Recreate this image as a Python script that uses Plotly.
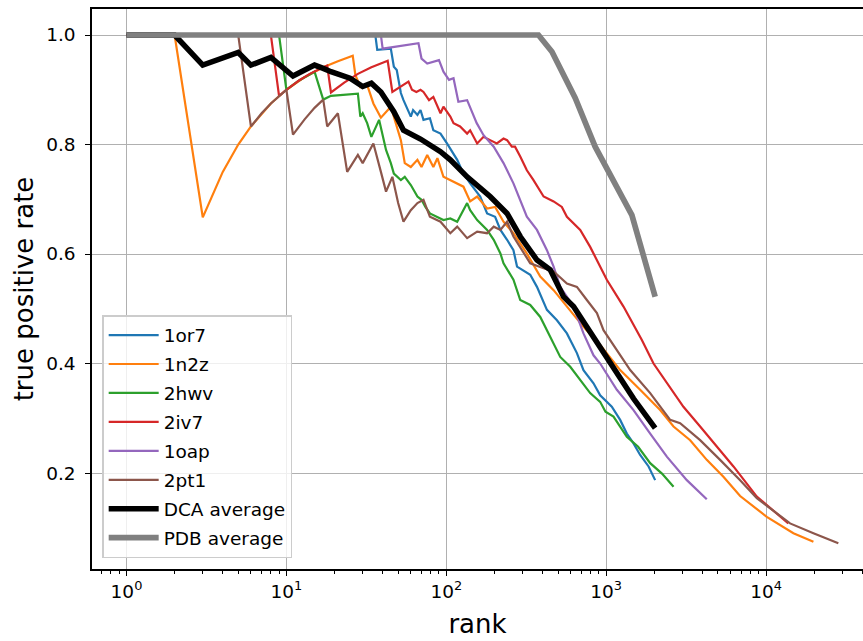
import plotly.graph_objects as go

series_names = ["1or7", "1n2z", "2hwv", "2iv7", "1oap", "2pt1", "DCA average", "PDB average"]

rank_1or7 = [1, 36, 37, 45, 47, 49, 52, 54, 60, 62, 66, 69, 72, 79, 83, 92, 101, 117, 128, 141,
             163, 180, 202, 218, 240, 263, 277, 335, 369, 426, 492, 568, 656, 721, 833, 917, 1084, 1223, 1346, 1482,
             1631, 1841, 2024]
tpr_1or7 = [1.0, 1.0, 0.973, 0.975, 0.942, 0.936, 0.894, 0.881, 0.851, 0.863, 0.854, 0.863, 0.845, 0.848, 0.826, 0.820, 0.802, 0.772, 0.747, 0.729,
            0.705, 0.674, 0.668, 0.644, 0.626, 0.607, 0.577, 0.562, 0.540, 0.498, 0.479, 0.455, 0.419, 0.388, 0.364, 0.342, 0.321, 0.297, 0.272, 0.254,
            0.233, 0.212, 0.187]

rank_1n2z = [1, 2, 3, 4, 5, 6, 8, 10, 13, 17, 21, 26, 27, 29, 32, 35, 39, 45, 52, 55,
             60, 66, 70, 76, 83, 88, 96, 111, 128, 141, 156, 180, 202, 228, 263, 319, 387, 469, 568, 721,
             917, 1223, 1631, 2175, 2637, 3350, 4256, 5408, 6880, 10100, 14820, 19770]
tpr_1n2z = [1.0, 1.0, 0.667, 0.75, 0.80, 0.833, 0.875, 0.90, 0.923, 0.941, 0.952, 0.962, 0.927, 0.905, 0.909, 0.875, 0.849, 0.869, 0.808, 0.766,
            0.759, 0.772, 0.759, 0.781, 0.759, 0.775, 0.741, 0.732, 0.723, 0.696, 0.705, 0.683, 0.686, 0.659, 0.638, 0.601, 0.559, 0.534, 0.504, 0.467,
            0.434, 0.388, 0.352, 0.315, 0.285, 0.260, 0.224, 0.193, 0.158, 0.120, 0.090, 0.0745]

rank_2hwv = [1, 9, 10, 12, 15, 17, 19, 23, 28, 29, 30, 32, 34, 38, 42, 45, 47, 52, 55, 60,
             66, 70, 74, 79, 88, 96, 106, 117, 135, 141, 156, 180, 198, 218, 228, 263, 290, 335, 387, 447,
             516, 596, 688, 794, 917, 990, 1111, 1346, 1584, 1884, 2233, 2637]
tpr_2hwv = [1.0, 1.0, 0.90, 0.917, 0.933, 0.882, 0.889, 0.891, 0.893, 0.851, 0.857, 0.839, 0.814, 0.845, 0.790, 0.766, 0.747, 0.735, 0.741, 0.726,
            0.705, 0.699, 0.686, 0.674, 0.668, 0.662, 0.665, 0.659, 0.693, 0.680, 0.662, 0.644, 0.626, 0.601, 0.583, 0.553, 0.516, 0.507, 0.485, 0.449,
            0.412, 0.394, 0.370, 0.346, 0.330, 0.312, 0.303, 0.266, 0.248, 0.218, 0.199, 0.175]

rank_2iv7 = [1, 8, 9, 10, 12, 14, 16, 18, 19, 23, 28, 34, 43, 46, 58, 61, 65, 69, 72, 78,
             83, 88, 92, 96, 106, 111, 122, 135, 141, 156, 171, 188, 207, 228, 240, 257, 269, 290, 319, 351,
             406, 469, 528, 568, 688, 794, 917, 1009, 1283, 1555, 1671, 1977, 2395, 3041, 3868, 4920, 6250, 8750, 13770]
tpr_2iv7 = [1.0, 1.0, 0.889, 0.90, 0.917, 0.929, 0.9375, 0.944, 0.895, 0.913, 0.929, 0.941, 0.953, 0.896, 0.915, 0.900, 0.896, 0.900, 0.896, 0.881,
            0.887, 0.869, 0.857, 0.869, 0.851, 0.839, 0.833, 0.820, 0.826, 0.802, 0.814, 0.808, 0.802, 0.811, 0.808, 0.796, 0.796, 0.778, 0.753, 0.735,
            0.705, 0.696, 0.686, 0.668, 0.644, 0.613, 0.577, 0.553, 0.504, 0.461, 0.443, 0.400, 0.364, 0.321, 0.285, 0.248, 0.212, 0.157, 0.108]

rank_1oap = [1, 39, 40, 67, 70, 76, 90, 96, 104, 111, 119, 135, 155, 171, 198, 228, 263, 290, 319, 369,
             426, 469, 516, 625, 721, 833, 917, 1166, 1482, 1884, 2395, 3193, 4256]
tpr_1oap = [1.0, 1.0, 0.975, 0.985, 0.957, 0.948, 0.954, 0.933, 0.918, 0.921, 0.878, 0.881, 0.839, 0.817, 0.796, 0.766, 0.729, 0.699, 0.668, 0.644,
            0.607, 0.577, 0.540, 0.504, 0.455, 0.415, 0.400, 0.352, 0.315, 0.272, 0.230, 0.187, 0.152]

rank_2pt1 = [1, 5, 6, 7, 8, 10, 11, 13, 15, 17, 18, 21, 24, 28, 30, 35, 39, 42, 46, 50,
             54, 60, 66, 72, 79, 92, 106, 117, 135, 156, 180, 198, 218, 240, 263, 290, 335, 406, 469, 568,
             656, 757, 875, 962, 1059, 1413, 1884, 2512, 2900, 3868, 5158, 6880, 8750, 14120, 19770, 28300]
tpr_2pt1 = [1.0, 1.0, 0.833, 0.857, 0.875, 0.90, 0.818, 0.846, 0.867, 0.882, 0.833, 0.857, 0.750, 0.781, 0.766, 0.802, 0.750, 0.714, 0.741, 0.693,
            0.659, 0.680, 0.693, 0.699, 0.668, 0.659, 0.638, 0.650, 0.629, 0.641, 0.638, 0.650, 0.644, 0.659, 0.632, 0.613, 0.583, 0.574, 0.568, 0.546,
            0.540, 0.516, 0.492, 0.461, 0.443, 0.388, 0.346, 0.297, 0.291, 0.260, 0.224, 0.187, 0.154, 0.108, 0.090, 0.0716]

rank_dca = [1, 2, 3, 5, 6, 8, 11, 15, 17, 19, 25, 30, 34, 39, 47, 54, 69, 83, 92, 106,
            135, 188, 240, 290, 335, 369, 447, 469, 541, 625, 917, 1111, 1482, 2024]
tpr_dca = [1.0, 1.0, 0.945, 0.968, 0.945, 0.959, 0.925, 0.945, 0.939, 0.933, 0.921, 0.906, 0.912, 0.896, 0.860, 0.826, 0.810, 0.795, 0.787, 0.772,
           0.741, 0.705, 0.674, 0.632, 0.607, 0.589, 0.571, 0.559, 0.522, 0.504, 0.431, 0.391, 0.336, 0.282]

rank_pdb = [1, 377, 458, 640, 853, 1111, 1448, 2024]
tpr_pdb = [1.0, 1.0, 0.9695, 0.885, 0.796, 0.732, 0.671, 0.522]

x_tick_vals = [1, 10, 100, 1000, 10000]
x_tick_text = ["10<sup>0</sup>", "10<sup>1</sup>", "10<sup>2</sup>", "10<sup>3</sup>", "10<sup>4</sup>"]
y_tick_vals = [0.2, 0.4, 0.6, 0.8, 1.0]

ranks = [rank_1or7, rank_1n2z, rank_2hwv, rank_2iv7, rank_1oap, rank_2pt1, rank_dca, rank_pdb]
tprs = [tpr_1or7, tpr_1n2z, tpr_2hwv, tpr_2iv7, tpr_1oap, tpr_2pt1, tpr_dca, tpr_pdb]
colors = ["#1f77b4", "#ff7f0e", "#2ca02c", "#d62728", "#9467bd", "#8c564b", "#000000", "#808080"]
widths = [2.2, 2.2, 2.2, 2.2, 2.2, 2.2, 5.5, 5.7]

fig = go.Figure()
for i, name in enumerate(series_names):
    fig.add_trace(go.Scatter(
        x=ranks[i], y=tprs[i], mode="lines", name=name,
        line=dict(color=colors[i], width=widths[i]),
        legendgroup=name,
    ))

font_family = "DejaVu Sans"
fig.update_layout(
    width=863, height=641,
    margin=dict(l=91.5, r=0, t=9, b=72, pad=0, autoexpand=False),
    paper_bgcolor="white", plot_bgcolor="white",
    font=dict(family=font_family, color="black", size=18),
    showlegend=True,
    legend=dict(
        x=0.0132, y=0.0196, xanchor="left", yanchor="bottom",
        bgcolor="rgba(255,255,255,0.8)", bordercolor="#cccccc", borderwidth=1.5,
        font=dict(family=font_family, size=18.5, color="black"),
        tracegroupgap=1.9, itemwidth=50,
    ),
    xaxis=dict(
        type="log", range=[-0.2156, 4.606], automargin=False,
        tickvals=x_tick_vals, ticktext=x_tick_text,
        ticks="outside", ticklen=5, tickwidth=1.3, tickcolor="black",
        showline=True, linecolor="black", linewidth=1.5, mirror=True,
        showgrid=True, gridcolor="#b0b0b0", gridwidth=1.4,
        zeroline=False,
        tickfont=dict(size=18.5),
        minor=dict(ticks="outside", ticklen=3, tickwidth=1, tickcolor="black", showgrid=False,
                   tickvals=[m * 10 ** e for e in range(-1, 5) for m in range(2, 10)]),
        title=dict(text="rank", font=dict(size=26), standoff=14),
    ),
    yaxis=dict(
        range=[0.0247, 1.0475], automargin=False,
        tickvals=y_tick_vals, tickformat=".1f",
        ticks="outside", ticklen=5, tickwidth=1.3, tickcolor="black",
        showline=True, linecolor="black", linewidth=1.5, mirror=False,
        showgrid=True, gridcolor="#b0b0b0", gridwidth=1.4,
        zeroline=False,
        tickfont=dict(size=18.5), ticklabelstandoff=6,
        title=dict(text="true positive rate", font=dict(size=26), standoff=5),
    ),
)

fig.write_html("out.html", config={"displayModeBar": False},
               post_script="document.body.style.margin='0';document.body.style.overflow='hidden';")
